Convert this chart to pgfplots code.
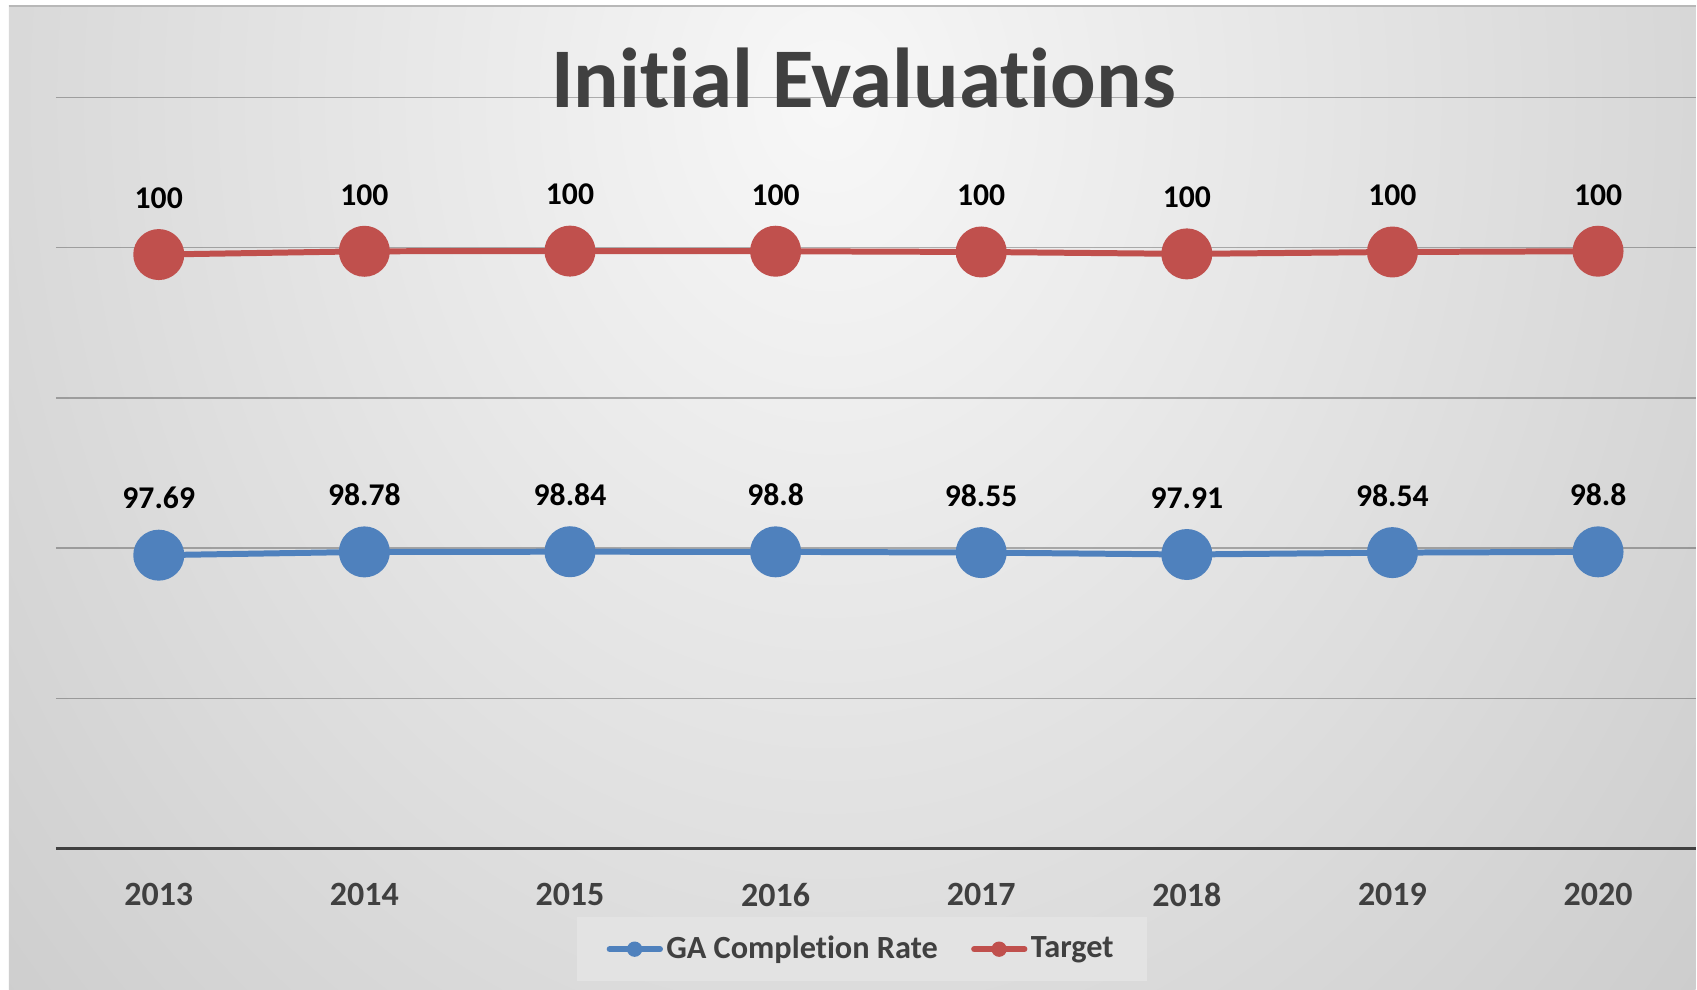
\documentclass[border=0pt]{standalone}
\usepackage{pgfplots}
\pgfplotsset{compat=1.18}
\usepackage{pgfplotstable}
\usepackage{fontspec}
\setmainfont{Carlito}[Ligatures={NoCommon}]
\definecolor{gablue}{HTML}{4F81BD}
\definecolor{tgred}{HTML}{C0504D}
\definecolor{txtgray}{HTML}{404040}
\definecolor{legfill}{HTML}{E3E3E3}

\pgfplotstableread{
x y lab
0 97.69 97.69
1 98.78 98.78
2 98.84 98.84
3 98.8 98.8
4 98.55 98.55
5 97.91 97.91
6 98.54 98.54
7 98.8 98.8
}\garate
\pgfplotstableread{
x y lab
0 100 100
1 100 100
2 100 100
3 100 100
4 100 100
5 100 100
6 100 100
7 100 100
}\target

\begin{document}
\begin{tikzpicture}
\begin{scope}[x=0.3pt,y=0.3pt]
\useasboundingbox (0,0) rectangle (1697,990);
\fill[white] (0,0) rectangle (1697,990);
\begin{scope}
\clip (9,0) rectangle (1697,984);
\shade[inner color=white!97!black, outer color=black!27] (830-1640,890-2000) rectangle (830+1640,890+2000);
\end{scope}
\draw[black!28, line width=0.6pt] (9,984) -- (1697,984);
\end{scope}

\begin{axis}[
  at={(16.8pt,42.12pt)}, anchor=south west,
  scale only axis, width=492.3pt, height=225.66pt,
  xmin=-0.5, xmax=7.474, ymin=0, ymax=250,
  clip=false,
  axis line style={draw=none},
  stack plots=y,
  xtick={0,...,7},
  xticklabels={\textbf{2013},\textbf{2014},\textbf{2015},\textbf{2016},\textbf{2017},\textbf{2018},\textbf{2019},\textbf{2020}},
  xticklabel style={anchor=center, yshift=-13.8pt, font=\fontsize{10.2pt}{12pt}\selectfont, text=txtgray},
  ytick={50,100,150,200,250},
  yticklabels={},
  major tick length=0pt,
  ymajorgrids,
  major grid style={draw=black, draw opacity=0.28, line width=0.45pt},
  point meta=explicit symbolic,
  nodes near coords,
  every node near coord/.append style={anchor=south, inner sep=0pt, yshift=12.9pt, font=\bfseries\fontsize{9.5pt}{11pt}\selectfont, text=black},
  legend columns=2,
  legend style={at={(0.4915,-0.1335)}, anchor=center, fill=legfill, draw=none,
    font=\bfseries\fontsize{9.7pt}{11pt}\selectfont, text=txtgray,
    inner xsep=9pt, inner ysep=3.5pt,
    /tikz/every even column/.append style={column sep=9pt},
    nodes={inner xsep=1pt}},
]
\draw[txtgray, line width=0.9pt] (axis cs:-0.5,0) -- (axis cs:7.474,0);
\addplot[gablue, line width=1.8pt, mark=*, mark size=6.75pt, mark options={fill=gablue, draw=gablue}, forget plot]
  table[x=x, y=y, meta=lab]{\garate};
\addplot[tgred, line width=1.8pt, mark=*, mark size=6.75pt, mark options={fill=tgred, draw=tgred}, forget plot]
  table[x=x, y=y, meta=lab]{\target};
\addlegendimage{legend image code/.code={\draw[gablue, line width=1.8pt, line cap=round] (0.9pt,0pt) -- (16pt,0pt); \fill[gablue] (8.4pt,0pt) circle (2.1pt);}}
\addlegendentry{GA Completion Rate}
\addlegendimage{legend image code/.code={\draw[tgred, line width=1.8pt, line cap=round] (0.9pt,0pt) -- (16pt,0pt); \fill[tgred] (8.4pt,0pt) circle (2.1pt);}}
\addlegendentry{Target}
\end{axis}

\node[anchor=base, inner sep=0pt, text=txtgray, font=\bfseries\fontsize{25.5pt}{30pt}\selectfont] at (259.2pt,264.6pt) {Initial Evaluations};
\end{tikzpicture}
\end{document}
